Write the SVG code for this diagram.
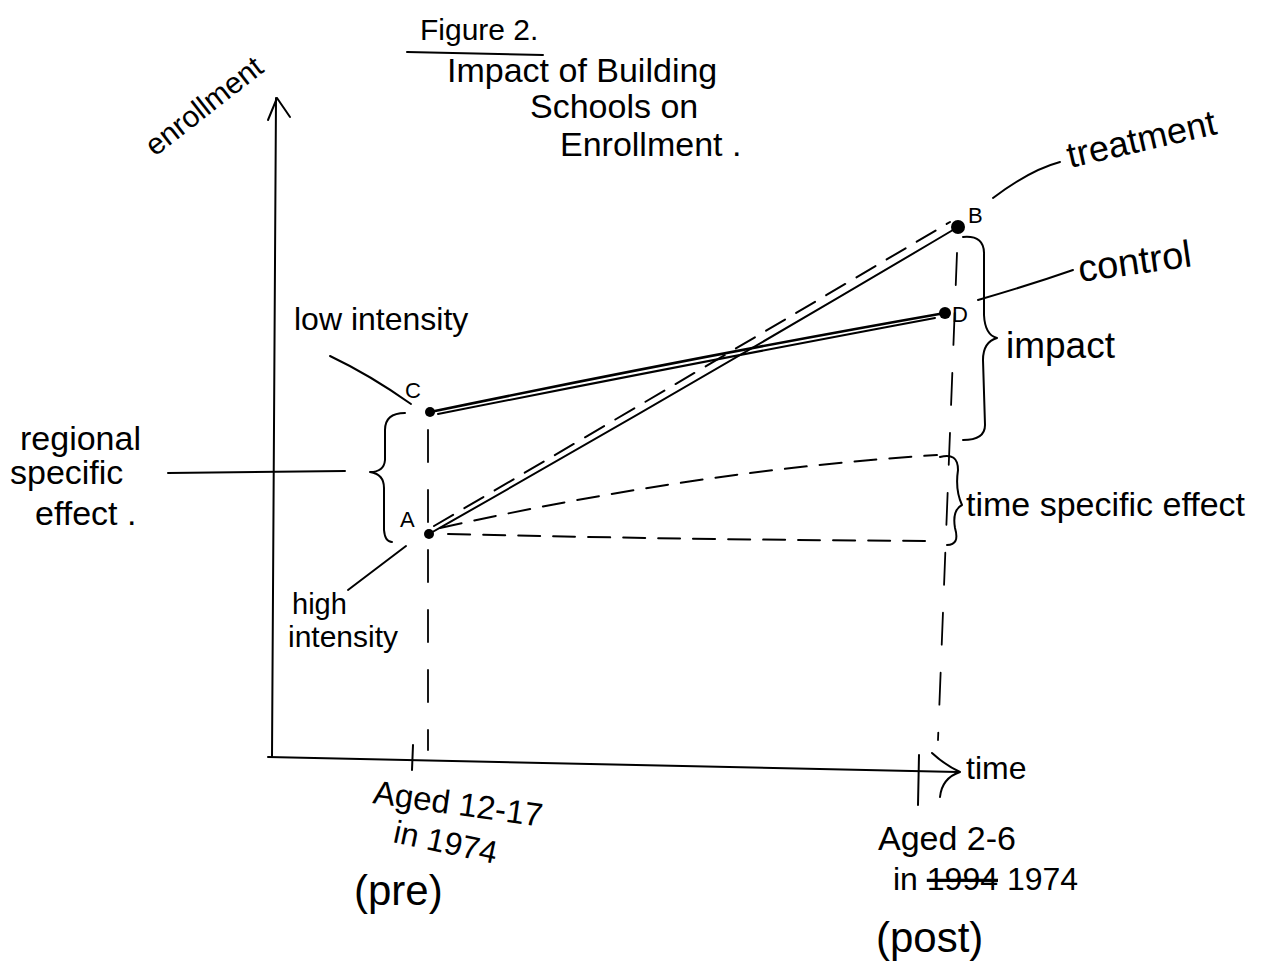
<svg xmlns="http://www.w3.org/2000/svg" width="1267" height="963" viewBox="0 0 1267 963">
<style>
.ln{fill:none;stroke:#000;stroke-width:2;stroke-linecap:round;stroke-linejoin:round}
.th{fill:none;stroke:#000;stroke-width:2.6;stroke-linecap:round}
.ds{fill:none;stroke:#000;stroke-width:2;stroke-dasharray:22 13;stroke-linecap:round}
.vd{fill:none;stroke:#000;stroke-width:1.8;stroke-dasharray:32 28;stroke-linecap:round}
.t{font-family:"Liberation Sans","DejaVu Sans",sans-serif;fill:#000}
.dot{fill:#000}
</style>
<rect width="1267" height="963" fill="#fff"/>

<g id="title">
<text class="t" x="420" y="40" font-size="30">Figure 2.</text>
<path class="ln" d="M407 52 L543 55"/>
<text class="t" x="447" y="82" font-size="34">Impact of Building</text>
<text class="t" x="530" y="118" font-size="34">Schools on</text>
<text class="t" x="560" y="156" font-size="34">Enrollment .</text>
</g>

<g id="axes">
<path class="ln" d="M272 757 L276 98"/>
<path class="ln" d="M268 120 L277 98 L290 117"/>
<path class="ln" d="M268 757 L958 772"/>
<path class="ln" d="M932 753 Q945 765 960 772 Q942 778 940 797"/>
<path class="ln" d="M413 745 L412 770"/>
<path class="ln" d="M919 755 L918 805"/>
<text class="t" x="0" y="0" font-size="30" transform="translate(155 157) rotate(-38)">enrollment</text>
<text class="t" x="966" y="779" font-size="32">time</text>
</g>

<g id="connectors">
<path class="ln" d="M429 534 Q700 380 958 227"/>
<path class="ds" d="M434 526 Q700 370 950 222"/>
<path class="th" d="M430 412 Q700 356 945 313"/>
<path class="ln" d="M438 414 Q700 362 935 318"/>
<path class="ds" d="M440 528 Q700 470 937 455"/>
<path class="ds" d="M448 534 Q700 540 937 541"/>
<path class="vd" d="M428 430 L428 750"/>
<path class="vd" d="M957 253 L938 740"/>
</g>

<g id="node-A">
<circle class="dot" cx="429" cy="534" r="5"/>
<text class="t" x="400" y="527" font-size="22">A</text>
</g>
<g id="node-B">
<circle class="dot" cx="958" cy="227" r="7"/>
<text class="t" x="968" y="223" font-size="22">B</text>
</g>
<g id="node-C">
<circle class="dot" cx="430" cy="412" r="5"/>
<text class="t" x="405" y="398" font-size="22">C</text>
</g>
<g id="node-D">
<circle class="dot" cx="945" cy="313" r="6"/>
<text class="t" x="952" y="322" font-size="22">D</text>
</g>

<g id="label-low">
<text class="t" x="294" y="330" font-size="32">low intensity</text>
<path class="ln" d="M330 356 Q370 375 411 404"/>
</g>
<g id="label-high">
<text class="t" x="292" y="614" font-size="29">high</text>
<text class="t" x="288" y="647" font-size="30">intensity</text>
<path class="ln" d="M406 546 L348 590"/>
</g>
<g id="label-regional">
<text class="t" x="20" y="450" font-size="34">regional</text>
<text class="t" x="10" y="484" font-size="34">specific</text>
<text class="t" x="35" y="525" font-size="34">effect .</text>
<path class="ln" d="M168 473 L345 471"/>
<path class="ln" d="M405 413 Q385 413 385 430 L385 460 Q384 472 370 472 Q384 474 384 488 L384 530 Q385 542 392 542"/>
</g>
<g id="label-treatment">
<text class="t" x="0" y="0" font-size="36" transform="translate(1070 168) rotate(-13)">treatment</text>
<path class="ln" d="M993 198 Q1030 170 1060 162"/>
</g>
<g id="label-control">
<text class="t" x="0" y="0" font-size="38" transform="translate(1080 282) rotate(-8)">control</text>
<path class="ln" d="M978 300 Q1030 285 1073 270"/>
</g>
<g id="label-impact">
<path class="ln" d="M963 237 Q985 235 984 255 L984 315 Q985 335 997 338 Q983 342 983 360 L985 425 Q985 440 963 440"/>
<text class="t" x="1006" y="358" font-size="37">impact</text>
</g>
<g id="label-time-specific">
<path class="ln" d="M940 457 Q958 452 958 470 Q955 490 962 505 Q952 510 955 528 Q960 545 947 545"/>
<text class="t" x="966" y="516" font-size="34">time specific effect</text>
</g>
<g id="label-pre">
<text class="t" x="0" y="0" font-size="33" transform="translate(372 803) rotate(8)">Aged 12-17</text>
<text class="t" x="0" y="0" font-size="32" transform="translate(392 842) rotate(12)">in 1974</text>
<text class="t" x="354" y="905" font-size="42">(pre)</text>
</g>
<g id="label-post">
<text class="t" x="878" y="850" font-size="34">Aged 2-6</text>
<text class="t" x="893" y="890" font-size="32">in <tspan text-decoration="line-through">1994</tspan> 1974</text>
<text class="t" x="876" y="952" font-size="42">(post)</text>
</g>
</svg>
